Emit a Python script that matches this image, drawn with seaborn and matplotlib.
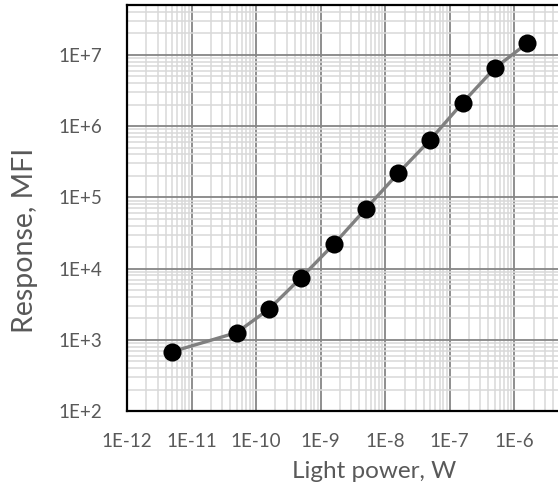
import matplotlib
matplotlib.use("Agg")
import matplotlib.pyplot as plt
import matplotlib.ticker as mticker
import seaborn as sns
import pandas as pd
import numpy as np

# Data
light_power_w = [5e-12, 5e-11, 1.6e-10, 5e-10, 1.6e-9, 5e-9, 1.6e-8, 5e-8, 1.6e-7, 5e-7, 1.6e-6]
response_mfi = [680, 1260, 2710, 7450, 21900, 68700, 218000, 640000, 2.14e6, 6.5e6, 1.46e7]
x_tick_vals = [1e-12, 1e-11, 1e-10, 1e-9, 1e-8, 1e-7, 1e-6]
x_tick_labels = ["1E-12", "1E-11", "1E-10", "1E-9", "1E-8", "1E-7", "1E-6"]
y_tick_vals = [1e2, 1e3, 1e4, 1e5, 1e6, 1e7]
y_tick_labels = ["1E+2", "1E+3", "1E+4", "1E+5", "1E+6", "1E+7"]

df = pd.DataFrame({"power": light_power_w, "response": response_mfi})

sns.set_theme(style="white")
plt.rcParams['font.family'] = ['Lato', 'DejaVu Sans']
text_color = "#595959"

fig = plt.figure(figsize=(5.58, 4.98), dpi=100)
ax = fig.add_axes([127/558, 87/498, 1 - 127/558, (411-5)/498])

ax.set_xscale("log")
ax.set_yscale("log")
ax.set_xlim(1e-12, 10**-5.32)
ax.set_ylim(1e2, 10**7.70)

# grid
ax.xaxis.set_major_locator(mticker.FixedLocator(x_tick_vals))
ax.yaxis.set_major_locator(mticker.FixedLocator(y_tick_vals))
ax.xaxis.set_minor_locator(mticker.LogLocator(base=10, subs=np.arange(2, 10), numticks=30))
ax.yaxis.set_minor_locator(mticker.LogLocator(base=10, subs=np.arange(2, 10), numticks=30))
ax.grid(which="minor", color="#d9d9d9", linewidth=1.1, zorder=0)
ax.grid(which="major", color="#868686", linewidth=1.3, zorder=0.5)
ax.set_axisbelow(True)

sns.lineplot(data=df, x="power", y="response", ax=ax, color="#808080",
             linewidth=2.4, zorder=3, legend=False)
sns.scatterplot(data=df, x="power", y="response", ax=ax, color="black",
                s=170, edgecolor="black", linewidth=0, zorder=4, legend=False)

ax.set_xticks(x_tick_vals)
ax.set_xticklabels(x_tick_labels)
ax.set_yticks(y_tick_vals)
ax.set_yticklabels(y_tick_labels)
ax.tick_params(axis="x", which="major", direction="in", length=4, width=1.5,
               color="black", pad=16, labelsize=13.5, labelcolor=text_color)
ax.tick_params(axis="y", which="major", length=0, pad=18, labelsize=13.5,
               labelcolor=text_color)
ax.tick_params(which="minor", length=0)

ax.set_xlabel("Light power, W", fontsize=17.5, color=text_color, va="center")
ax.set_ylabel("Response, MFI", fontsize=20.5, color=text_color, va="center")
ax.xaxis.set_label_coords((374 - 127) / 431, (411 - 471) / 406)
ax.yaxis.set_label_coords((25 - 127) / 431, (411 - 240) / 406)

for side in ["left", "bottom", "top"]:
    ax.spines[side].set_visible(True)
    ax.spines[side].set_color("black")
    ax.spines[side].set_linewidth(1.6)
ax.spines["right"].set_visible(False)

fig.savefig("out.png", dpi=100)
